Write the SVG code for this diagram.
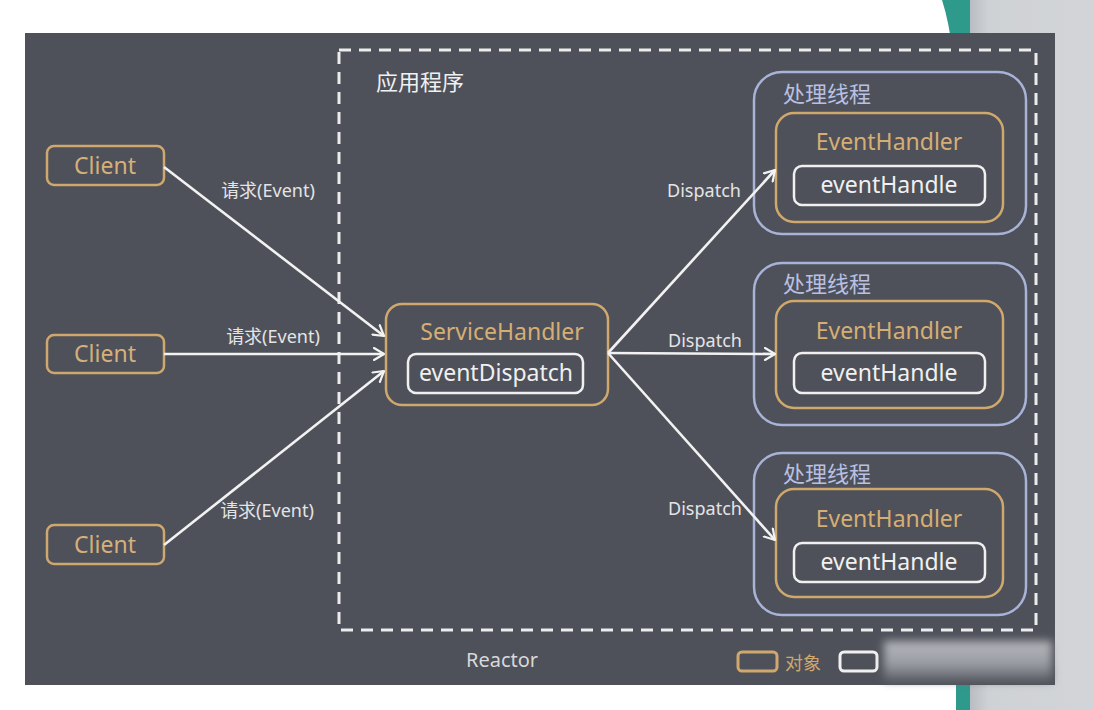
<svg xmlns="http://www.w3.org/2000/svg" width="1094" height="710" viewBox="0 0 1094 710">
<style>
.txt{font-family:"Noto Sans","Noto Sans CJK SC",sans-serif}
.client rect{fill:none;stroke:#cfa86e;stroke-width:2.5}
.client text{fill:#d6b07a;font-size:23px;text-anchor:middle}
.orange{fill:none;stroke:#cfa86e;stroke-width:2.5}
.otext{fill:#d6ae74;font-size:23px;text-anchor:middle}
.white{fill:none;stroke:#f0f0f0;stroke-width:2.5}
.wtext{fill:#f0f0f0;font-size:23px;text-anchor:middle}
.thread{fill:none;stroke:#a9b3d8;stroke-width:2.5}
.ttext{fill:#b9c0e2;font-size:22px}
.lbl{fill:#e4e4e6;font-size:18px;text-anchor:middle}
.conn line{stroke:#f2f2f2;stroke-width:2.6;marker-end:url(#arr)}
</style>
<defs>
<marker id="arr" viewBox="0 0 12 14" refX="11" refY="7" markerWidth="12" markerHeight="14" markerUnits="userSpaceOnUse" orient="auto">
<path d="M1,1 L11,7 L1,13" fill="none" stroke="#f2f2f2" stroke-width="2.2" stroke-linecap="round" stroke-linejoin="round"/>
</marker>
<filter id="blur" x="-10%" y="-40%" width="120%" height="180%"><feGaussianBlur stdDeviation="4"/></filter>
<linearGradient id="grey" x1="0" y1="0" x2="1" y2="0"><stop offset="0" stop-color="#b9bcc0"/><stop offset="0.15" stop-color="#cfd2d5"/><stop offset="1" stop-color="#d2d4d7"/></linearGradient>
<linearGradient id="mos" x1="0" y1="0" x2="0" y2="1"><stop offset="0" stop-color="#b4b6bb"/><stop offset="0.55" stop-color="#9c9ea5"/><stop offset="1" stop-color="#5c5f67"/></linearGradient>
</defs>
<rect width="1094" height="710" fill="#ffffff"/>
<path d="M942,0 Q958,50 956,140 L956,710 L970,710 L970,0 Z" fill="#2e9a8c"/>
<rect x="970" y="0" width="124" height="710" fill="url(#grey)"/>
<rect x="25" y="33" width="1030" height="652" fill="#4e5159"/>
<rect x="339" y="50" width="697" height="580" fill="none" stroke="#ececec" stroke-width="3" stroke-dasharray="12 8"/>
<text class="txt" x="376" y="90" fill="#f0f0f0" font-size="22">应用程序</text>
<text class="txt" x="502" y="667" fill="#d8d8da" font-size="20" text-anchor="middle">Reactor</text>

<g id="client1" class="client txt"><rect x="47" y="146" width="117" height="39" rx="7"/><text x="105" y="174">Client</text></g>
<g id="client2" class="client txt"><rect x="47" y="335" width="117" height="38" rx="7"/><text x="105" y="362">Client</text></g>
<g id="client3" class="client txt"><rect x="47" y="525" width="117" height="39" rx="7"/><text x="105" y="553">Client</text></g>

<g id="servicehandler" class="txt">
<rect class="orange" x="386" y="304" width="222" height="101" rx="16"/>
<text class="otext" x="502" y="340">ServiceHandler</text>
<rect class="white" x="408" y="354" width="175" height="39" rx="8"/>
<text class="wtext" x="496" y="381">eventDispatch</text>
</g>

<g id="thread1" class="txt">
<rect class="thread" x="754" y="72" width="272" height="162" rx="28"/>
<text class="ttext" x="783" y="102">处理线程</text>
<rect class="orange" x="776" y="113" width="227" height="109" rx="18"/>
<text class="otext" x="889" y="150">EventHandler</text>
<rect class="white" x="794" y="166" width="191" height="39" rx="8"/>
<text class="wtext" x="889" y="193">eventHandle</text>
</g>
<g id="thread2" class="txt">
<rect class="thread" x="754" y="263" width="272" height="162" rx="28"/>
<text class="ttext" x="783" y="292">处理线程</text>
<rect class="orange" x="776" y="301" width="227" height="107" rx="18"/>
<text class="otext" x="889" y="339">EventHandler</text>
<rect class="white" x="794" y="353" width="191" height="40" rx="8"/>
<text class="wtext" x="889" y="381">eventHandle</text>
</g>
<g id="thread3" class="txt">
<rect class="thread" x="754" y="453" width="272" height="162" rx="28"/>
<text class="ttext" x="783" y="482">处理线程</text>
<rect class="orange" x="776" y="489" width="227" height="108" rx="18"/>
<text class="otext" x="889" y="527">EventHandler</text>
<rect class="white" x="794" y="543" width="191" height="39" rx="8"/>
<text class="wtext" x="889" y="570">eventHandle</text>
</g>

<g id="connectors" class="conn">
<line x1="164" y1="167" x2="384" y2="336"/>
<line x1="164" y1="354" x2="384" y2="354"/>
<line x1="164" y1="545" x2="384" y2="371"/>
<line x1="608" y1="353" x2="775" y2="170"/>
<line x1="608" y1="353" x2="775" y2="354"/>
<line x1="608" y1="353" x2="775" y2="540"/>
</g>
<g id="labels" class="txt">
<text class="lbl" x="268" y="197">请求(Event)</text>
<text class="lbl" x="273" y="343">请求(Event)</text>
<text class="lbl" x="267" y="517">请求(Event)</text>
<text class="lbl" x="704" y="197">Dispatch</text>
<text class="lbl" x="705" y="347">Dispatch</text>
<text class="lbl" x="705" y="515">Dispatch</text>
</g>

<g id="legend" class="txt">
<rect x="738" y="652" width="39" height="19" rx="4" fill="none" stroke="#cfa86e" stroke-width="3"/>
<text x="785" y="670" fill="#cfa86e" font-size="18">对象</text>
<rect x="840" y="652" width="37" height="19" rx="4" fill="none" stroke="#f0f0f0" stroke-width="3"/>
<rect x="884" y="641" width="168" height="40" fill="url(#mos)" filter="url(#blur)"/>
</g>
</svg>
